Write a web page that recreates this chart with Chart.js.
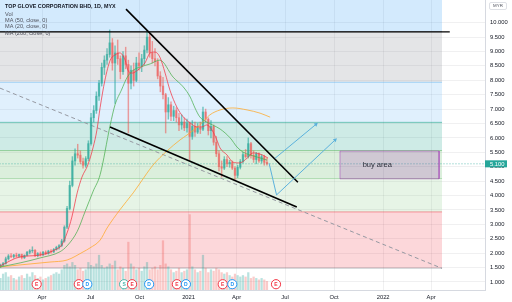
<!DOCTYPE html>
<html>
<head>
<meta charset="utf-8">
<script src="https://cdn.jsdelivr.net/npm/chart.js@4.4.1/dist/chart.umd.min.js"></script>
<style>
  html, body { margin: 0; padding: 0; background: #fff; }
  canvas { display: block; }
</style>
</head>
<body>
<canvas id="chart" width="512" height="302"></canvas>
<script>
// x values are days counted from 2020-01-01
const firstBarDay = 13;
const barStep = 5;

const opens = [1.52,1.58,1.64,1.80,1.90,1.88,1.93,1.89,1.95,1.84,
  1.92,2.03,2.08,2.10,1.92,1.98,1.94,2.03,1.98,2.07,
  2.04,2.13,2.20,2.26,2.42,2.90,3.55,4.35,5.20,5.45,
  5.40,5.18,5.05,5.28,5.80,6.70,6.95,7.45,7.90,8.45,
  8.70,8.90,9.30,8.60,8.95,8.75,8.30,8.85,8.55,7.90,
  8.35,8.00,8.60,8.50,8.75,9.05,9.50,8.95,8.75,8.65,
  8.15,7.80,7.50,6.90,7.15,6.75,6.95,6.70,6.45,6.55,
  6.35,6.50,6.05,6.40,6.20,6.35,6.30,6.90,6.65,6.25,
  6.40,5.85,5.45,5.00,4.95,5.25,5.10,5.15,4.95,4.70,
  4.98,5.18,5.42,5.35,5.80,5.40,5.25,5.45,5.20,5.35,
  5.15];
const highs = [1.62,1.68,1.86,1.95,1.98,1.96,2.00,1.97,1.97,1.94,
  2.06,2.12,2.22,2.12,2.02,2.04,2.06,2.08,2.10,2.12,
  2.16,2.24,2.30,2.48,2.95,3.62,4.50,5.35,5.62,5.78,
  5.55,5.30,5.35,5.90,6.85,7.12,7.60,8.00,8.60,8.85,
  9.10,9.75,9.45,9.20,9.40,8.85,9.00,9.15,8.70,8.50,
  8.60,8.80,8.95,8.90,9.20,9.72,9.60,9.35,9.10,8.75,
  8.30,8.10,7.55,7.40,7.25,7.10,7.05,6.85,6.80,6.70,
  6.65,6.55,6.60,6.55,6.50,6.55,7.07,7.00,6.70,6.60,
  6.45,6.05,5.55,5.20,5.35,5.35,5.22,5.20,5.00,5.05,
  5.25,5.50,5.60,6.00,5.85,5.55,5.50,5.48,5.42,5.40,
  5.30];
const lows = [1.49,1.55,1.62,1.76,1.84,1.82,1.86,1.85,1.80,1.81,
  1.90,1.97,2.02,1.88,1.87,1.90,1.91,1.95,1.96,2.00,
  2.02,2.10,2.14,2.22,2.38,2.85,3.50,4.30,5.05,5.30,
  5.10,4.95,4.98,5.20,5.75,6.55,6.85,7.30,7.80,8.20,
  8.55,8.80,8.35,7.20,8.55,8.05,8.20,8.40,6.17,7.70,
  7.80,7.95,8.35,8.30,8.55,8.95,8.80,8.60,8.50,8.05,
  7.60,7.35,6.17,6.65,6.60,6.60,6.55,6.25,6.30,6.25,
  6.20,5.23,5.95,6.05,6.15,6.15,6.25,6.55,6.10,6.00,
  5.75,5.35,4.85,4.64,4.90,5.00,4.98,4.90,4.55,4.62,
  4.92,5.12,5.30,5.30,5.30,5.15,5.10,5.15,5.12,5.05,
  5.05];
const closes = [1.58,1.64,1.80,1.90,1.88,1.93,1.89,1.95,1.84,1.92,
  2.03,2.08,2.10,1.92,1.98,1.94,2.03,1.98,2.07,2.04,
  2.13,2.20,2.26,2.42,2.90,3.55,4.35,5.20,5.45,5.40,
  5.18,5.05,5.28,5.80,6.70,6.95,7.45,7.90,8.45,8.70,
  8.90,9.30,8.60,8.95,8.75,8.30,8.85,8.55,7.90,8.35,
  8.00,8.60,8.50,8.75,9.05,9.50,8.95,8.75,8.65,8.15,
  7.80,7.50,6.90,7.15,6.75,6.95,6.70,6.45,6.55,6.35,
  6.50,6.05,6.40,6.20,6.35,6.30,6.90,6.65,6.25,6.40,
  5.85,5.45,5.00,4.95,5.25,5.10,5.15,4.95,4.70,4.98,
  5.18,5.42,5.35,5.80,5.40,5.25,5.45,5.20,5.35,5.15,
  5.10];
const volumes = [40,55,60,45,50,40,35,45,50,40,
  55,45,60,50,40,45,35,40,45,50,
  55,60,55,70,85,90,80,95,85,70,
  75,65,70,95,85,80,90,120,85,75,
  80,90,85,100,70,80,75,65,165,90,
  80,70,75,65,80,95,70,75,80,70,
  85,170,90,80,70,60,65,75,60,65,
  70,260,80,70,60,65,120,75,60,70,
  65,75,70,60,55,60,50,45,55,50,
  45,50,45,60,40,45,40,35,40,35,
  30];

const ma20Days = [12,50,87,115,128,138,147,157,166,177,187,194,200,209,219,228,237,247,252,260,271,284,294,303,312,322,331,344,356,369,382,391,400,410,419,425,438,449,462,476,487,504,515];
const ma20 = [1.55,1.87,1.93,2.11,2.28,2.70,3.25,4.09,4.64,5.06,5.68,6.27,7.05,8.00,8.70,8.88,8.95,8.70,8.36,8.25,8.36,8.60,8.95,8.98,8.81,8.25,7.66,7.07,6.73,6.52,6.38,6.38,6.45,6.27,5.93,5.65,5.41,5.16,5.13,5.30,5.48,5.41,5.30];
const ma50Days = [12,50,87,125,138,157,172,187,200,219,228,240,251,263,275,294,312,337,356,369,378,387,400,411,425,444,457,468,481,494,513];
const ma50 = [1.52,1.66,1.83,2.05,2.25,2.75,3.45,4.15,4.72,6.45,7.15,7.66,8.11,8.36,8.46,8.57,8.70,8.11,7.77,7.42,7.04,6.73,6.55,6.45,6.31,6.00,5.68,5.51,5.41,5.34,5.23];
const ma200Days = [12,50,106,138,168,181,200,213,237,262,275,299,325,350,363,387,406,425,449,476,500,519];
const ma200 = [1.52,1.59,1.69,1.76,2.04,2.18,2.45,2.87,3.50,4.09,4.43,5.05,5.54,5.93,6.10,6.45,6.80,6.97,7.04,6.97,6.86,6.72];

const fibLevels = [1.48, 3.43, 4.59, 5.56, 6.54, 7.93, 9.69, 14.76];
const fibColors = ['#787b86', '#f23645', '#81c784', '#4caf50', '#089981', '#64b5f6', '#787b86', '#2196f3'];
const fibEndDay = 841.5;

const topLineDays = [248.6, 571];
const topLine = [10.47, 4.46];
const lowLineDays = [218.6, 569];
const lowLine = [6.38, 3.60];
const flatLineDays = [0, 856];
const flatLine = [9.68, 9.68];
const dashLineDays = [0, 841.5];
const dashLine = [7.82, 1.47];
const arrowUpDays = [528, 605];
const arrowUp = [5.29, 6.47];
const arrowDownDays = [517, 531, 641];
const arrowDown = [5.12, 4.02, 5.93];

const buyDays = [650, 836];
const buyTop = 5.545;
const buyBottom = 4.58;
const buyLabelDay = 720;
const lastPrice = 5.10;

const eventDays = [81, 160, 176, 245, 260, 292, 344, 361, 430, 448, 530];
const eventLetters = ['E', 'E', 'D', 'S', 'E', 'D', 'E', 'D', 'E', 'D', 'E'];
const eventPrice = 0.92;

const xTickDays = [91, 182, 274, 366, 456, 547, 639, 731, 821];
const xTickLabels = ['Apr', 'Jul', 'Oct', '2021', 'Apr', 'Jul', 'Oct', '2022', 'Apr'];
const yTickValues = [1, 1.5, 2, 2.5, 3, 3.5, 4, 4.5, 5, 5.5, 6, 6.5, 7, 7.5, 8, 8.5, 9, 9.5, 10];

const title = 'TOP GLOVE CORPORATION BHD, 1D, MYX';
const legendLines = ['Vol', 'MA (50, close, 0)', 'MA (20, close, 0)', 'MA (200, close, 0)'];

const family = '"Liberation Sans", Arial, sans-serif';
const hexA = (hex, a) => {
  const n = parseInt(hex.slice(1), 16);
  return `rgba(${n >> 16},${(n >> 8) & 255},${n & 255},${a})`;
};
const pts = (days, vals) => days.map((d, i) => ({ x: d, y: vals[i] }));
const barDays = opens.map((_, i) => firstBarDay + barStep * i);
const isUp = i => closes[i] >= opens[i];
const candleCol = barDays.map((_, i) => isUp(i) ? 'rgba(38,166,154,0.6)' : 'rgba(239,83,80,0.55)');
const volCol = barDays.map((_, i) => isUp(i) ? 'rgba(38,166,154,0.32)' : 'rgba(239,83,80,0.3)');
const eventColor = { E: '#f23645', D: '#2196f3', S: '#4db6ac' };

const datasets = [];
fibLevels.forEach((lv, k) => datasets.push({
  type: 'line',
  data: [{ x: 0, y: lv }, { x: fibEndDay, y: lv }],
  borderColor: hexA(fibColors[k], 0.5),
  borderWidth: 1,
  backgroundColor: hexA(fibColors[k], 0.2),
  fill: k === 0 ? false : '-1',
  order: 100
}));

datasets.push(
  {
    type: 'bar', yAxisID: 'v',
    data: barDays.map((d, i) => ({ x: d, y: volumes[i] })),
    backgroundColor: volCol, barThickness: 1.6, grouped: false, order: 90
  },
  {
    type: 'line', data: pts(dashLineDays, dashLine),
    borderColor: '#9598a1', borderWidth: 1, borderDash: [4, 3], order: 80
  },
  {
    type: 'line', data: [{ x: 0, y: lastPrice }, { x: 1000, y: lastPrice }],
    borderColor: 'rgba(38,166,154,0.7)', borderWidth: 1, borderDash: [1, 2], order: 75
  },
  {
    type: 'bar',
    data: barDays.map((d, i) => ({ x: d, y: [lows[i], highs[i]] })),
    backgroundColor: candleCol, barThickness: 0.8, grouped: false, order: 60
  },
  {
    type: 'bar',
    data: barDays.map((d, i) => ({ x: d, y: [opens[i], closes[i]] })),
    backgroundColor: candleCol, barThickness: 1.7, grouped: false, order: 59
  },
  {
    type: 'line', data: pts(ma200Days, ma200),
    borderColor: 'rgba(255,167,38,0.75)', borderWidth: 1, cubicInterpolationMode: 'monotone', order: 52
  },
  {
    type: 'line', data: pts(ma50Days, ma50),
    borderColor: 'rgba(76,175,80,0.75)', borderWidth: 1, cubicInterpolationMode: 'monotone', order: 51
  },
  {
    type: 'line', data: pts(ma20Days, ma20),
    borderColor: 'rgba(242,54,69,0.75)', borderWidth: 1, cubicInterpolationMode: 'monotone', order: 50
  },
  {
    type: 'line', data: pts(buyDays, [buyTop, buyTop]),
    borderWidth: 0, backgroundColor: 'rgba(156,39,176,0.2)', fill: { value: buyBottom }, order: 46
  },
  {
    type: 'line',
    data: pts([buyDays[0], buyDays[1], buyDays[1], buyDays[0], buyDays[0]], [buyTop, buyTop, buyBottom, buyBottom, buyTop]),
    borderColor: 'rgba(156,39,176,0.45)', borderWidth: 1, order: 45
  },
  {
    type: 'line', data: pts(flatLineDays, flatLine),
    borderColor: '#000', borderWidth: 1.4, order: 30
  },
  {
    type: 'line', data: pts(topLineDays, topLine),
    borderColor: '#000', borderWidth: 1.6, order: 30
  },
  {
    type: 'line', data: pts(lowLineDays, lowLine),
    borderColor: '#000', borderWidth: 1.6, order: 30
  },
  {
    type: 'line', data: pts(arrowUpDays, arrowUp),
    borderColor: '#5bb1dc', borderWidth: 1, pointStyle: 'triangle',
    pointRadius: [0, 2.4], pointRotation: [0, 50], pointBackgroundColor: '#5bb1dc', pointBorderWidth: 0, order: 20
  },
  {
    type: 'line', data: pts(arrowDownDays, arrowDown),
    borderColor: '#5bb1dc', borderWidth: 1, pointStyle: 'triangle',
    pointRadius: [0, 0, 2.4], pointRotation: [0, 0, 47], pointBackgroundColor: '#5bb1dc', pointBorderWidth: 0, order: 20
  },
  {
    type: 'line', showLine: false,
    data: eventDays.map(d => ({ x: d, y: eventPrice })),
    pointRadius: 4.6, pointBackgroundColor: '#fff',
    pointBorderColor: eventLetters.map(l => eventColor[l]), pointBorderWidth: 1, order: 5
  }
);

const overlay = {
  id: 'overlay',
  afterDraw(chart) {
    const { ctx, scales: { x, y }, chartArea } = chart;
    ctx.save();
    ctx.textBaseline = 'middle';
    ctx.textAlign = 'left';
    ctx.fillStyle = '#131722';
    ctx.font = `bold 5.4px ${family}`;
    ctx.fillText(title, 5, 6.7);
    ctx.font = `5.6px ${family}`;
    ctx.fillStyle = '#50535e';
    legendLines.forEach((t, i) => ctx.fillText(t, 5, 14 + i * 6.45));

    // buy area label
    ctx.fillStyle = '#2a2e39';
    ctx.font = `7.5px ${family}`;
    ctx.textAlign = 'center';
    ctx.fillText('buy area', x.getPixelForValue(buyLabelDay), y.getPixelForValue((buyTop + buyBottom) / 2));

    // event letters
    ctx.font = `bold 5px ${family}`;
    eventDays.forEach((d, i) => {
      ctx.fillStyle = eventColor[eventLetters[i]];
      ctx.fillText(eventLetters[i], x.getPixelForValue(d), y.getPixelForValue(eventPrice) + 0.3);
    });

    // last price tag
    const py = y.getPixelForValue(lastPrice);
    ctx.fillStyle = '#26a69a';
    ctx.fillRect(chartArea.right, py - 3.5, 22, 7);
    ctx.fillStyle = '#fff';
    ctx.textAlign = 'left';
    ctx.font = `5.8px ${family}`;
    ctx.fillText(lastPrice.toFixed(3), chartArea.right + 5, py + 0.3);

    // currency box
    ctx.strokeStyle = '#c8cbd3';
    ctx.lineWidth = 0.6;
    ctx.beginPath();
    ctx.roundRect(chartArea.right + 4.5, 2.5, 17, 7, 1.5);
    ctx.fillStyle = '#fff';
    ctx.fill();
    ctx.stroke();
    ctx.fillStyle = '#50535e';
    ctx.font = `4.4px ${family}`;
    ctx.textAlign = 'center';
    ctx.fillText('MYR', chartArea.right + 13, 6.2);
    ctx.restore();
  }
};

const gridColor = 'rgba(42,46,57,0.07)';
new Chart(document.getElementById('chart'), {
  type: 'bar',
  data: { datasets },
  plugins: [overlay],
  options: {
    responsive: false,
    animation: false,
    devicePixelRatio: 1,
    layout: { padding: 0, autoPadding: false },
    elements: { point: { radius: 0 }, line: { tension: 0 } },
    plugins: { legend: { display: false }, tooltip: { enabled: false } },
    scales: {
      x: {
        type: 'linear', min: 12.2, max: 922.1, offset: false,
        grid: { color: gridColor, drawTicks: false, offset: false },
        border: { color: '#d6d9e0' },
        afterBuildTicks: s => { s.ticks = xTickDays.map(v => ({ value: v })); },
        ticks: {
          callback: (v, i) => xTickLabels[i],
          font: { size: 5.8, family }, color: '#131722', padding: 4, maxRotation: 0, autoSkip: false
        },
        afterFit: s => { s.height = 12; s.paddingLeft = 0; s.paddingRight = 0; }
      },
      y: {
        position: 'right', min: 0.719, max: 10.788,
        grid: { color: gridColor, drawTicks: false },
        border: { color: '#d6d9e0' },
        afterBuildTicks: s => { s.ticks = yTickValues.map(v => ({ value: v })); },
        ticks: {
          callback: v => v.toFixed(3),
          font: { size: 5.8, family }, color: '#131722', padding: 5, autoSkip: false
        },
        afterFit: s => { s.width = 27; s.paddingTop = 0; s.paddingBottom = 0; }
      },
      v: { display: false, min: 0, max: 1000 }
    }
  }
});
</script>
</body>
</html>
